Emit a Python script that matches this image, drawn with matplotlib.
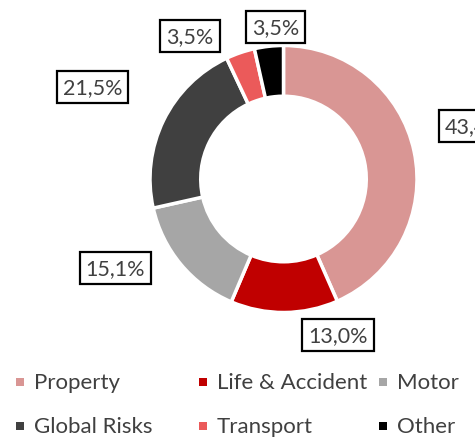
import matplotlib.pyplot as plt

# Portfolio split by line of business
categories = ['Property', 'Life & Accident', 'Motor', 'Global Risks', 'Transport', 'Other']
shares = [43.4, 13.0, 15.1, 21.5, 3.5, 3.5]
colors = ['#D99694', '#C00000', '#A6A6A6', '#404040', '#EB5A5A', '#000000']
labels = ['43,4%', '13,0%', '15,1%', '21,5%', '3,5%', '3,5%']

# label box centres, in units of the outer radius
label_pos = [(1.43, 0.40), (0.41, -1.17), (-1.26, -0.67), (-1.43, 0.69), (-0.70, 1.07), (-0.06, 1.14)]

plt.rcParams['font.family'] = ['Lato', 'DejaVu Sans']

W, H = 475, 439
fig = plt.figure(figsize=(W / 100, H / 100), dpi=100)
cx, cy, r = 283.5, 180, 133.5
ax = fig.add_axes([(cx - r) / W, (H - cy - r) / H, 2 * r / W, 2 * r / H])

ax.pie(shares, colors=colors, startangle=90, counterclock=False, radius=1,
       wedgeprops=dict(width=0.38, edgecolor='white', linewidth=2.5))
ax.set_xlim(-1, 1)
ax.set_ylim(-1, 1)
ax.set_aspect('equal')
ax.axis('off')

for (x, y), txt in zip(label_pos, labels):
    ax.text(x, y, txt, ha='center', va='center', fontsize=15.5, color='#404040',
            clip_on=False,
            bbox=dict(boxstyle='square,pad=0.28', facecolor='white', edgecolor='black', linewidth=1.6))

# legend, laid out in two rows of three
col_x = [20, 203, 383]
row_y = [383, 427]
for i, (name, c) in enumerate(zip(categories, colors)):
    x = col_x[i % 3]
    y = row_y[i // 3]
    fig.patches.append(plt.Rectangle(((x - 4) / W, (H - y - 4) / H), 8 / W, 8 / H,
                                     transform=fig.transFigure, facecolor=c, edgecolor='none'))
    fig.text((x + 14) / W, (H - y) / H, name, ha='left', va='center',
             fontsize=16, color='#404040')

fig.savefig('out.png', dpi=100)
